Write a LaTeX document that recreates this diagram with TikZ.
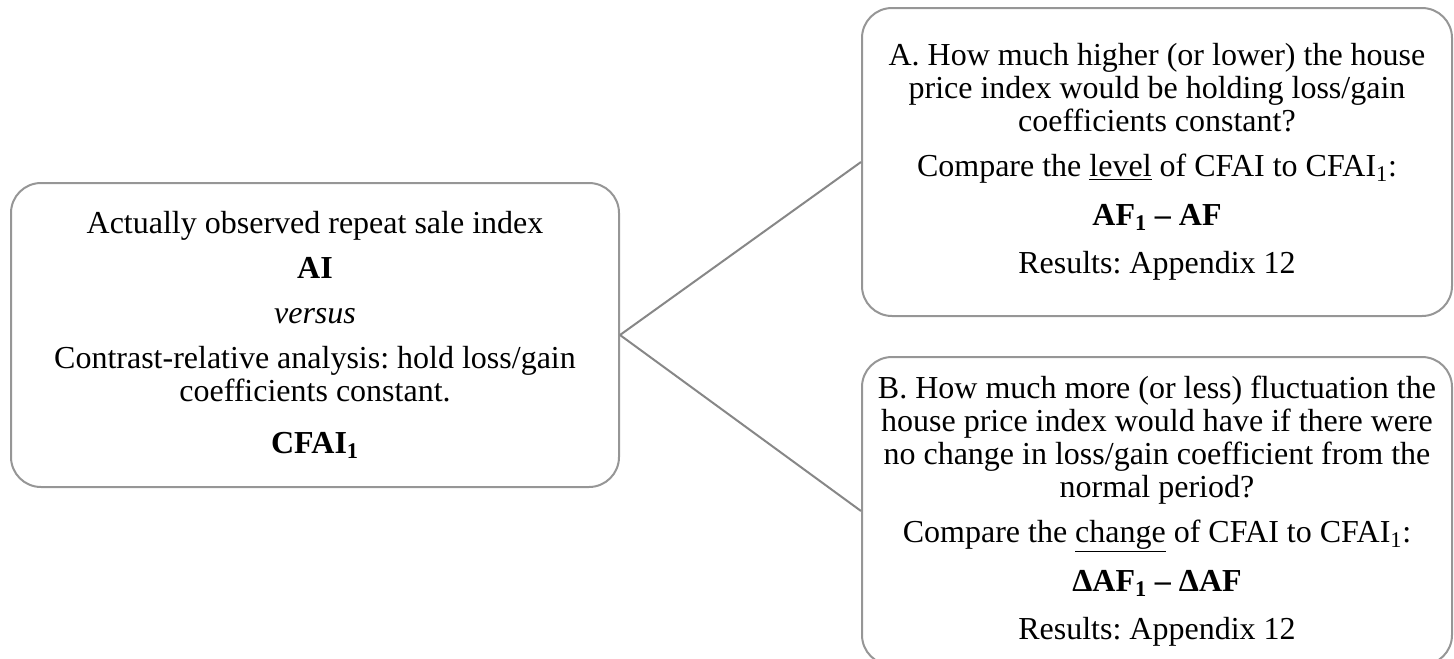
\documentclass[tikz,border=0pt]{standalone}
\usepackage{fontspec}
\setmainfont{Liberation Serif}
\frenchspacing
\definecolor{boxgray}{RGB}{150,150,150}
\definecolor{linegray}{RGB}{135,135,135}

\tikzset{every picture/.style={line width=1.5pt}}
\tikzset{
  qbox/.style={draw=boxgray, rounded corners=22.5pt, align=center, inner sep=0pt,
    font=\fontsize{24pt}{24.75pt}\selectfont},
  link/.style={draw=linegray, line width=1.5pt}
}

\begin{document}
\begin{tikzpicture}[x=0.75pt,y=0.75pt,yscale=-1,xscale=1]
\useasboundingbox (0,0) rectangle (1454,658);

% Observed index box
\draw (315,335) node (obs) [qbox, minimum width=456pt, minimum height=228pt]
  {Actually observed repeat sale index\\[9pt]
   \textbf{AI}\\[9pt]
   \textit{versus}\\[9pt]
   Contrast-relative analysis: hold loss/gain\\
   coefficients constant.\\[14pt]
   \textbf{CFAI\textsubscript{1}}};

% Question A box
\draw (1157,162) node (qa) [qbox, minimum width=442.5pt, minimum height=231pt]
  {A. How much higher (or lower) the house\\
   price index would be holding loss/gain\\
   coefficients constant?\\[9pt]
   Compare the \underline{level} of CFAI to CFAI\textsubscript{1}:\\[12pt]
   \textbf{AF\textsubscript{1} – AF}\\[11pt]
   Results: Appendix 12};

% Question B box
\draw (1157,511) node (qb) [qbox, minimum width=442.5pt, minimum height=231pt]
  {B. How much more (or less) fluctuation the\\
   house price index would have if there were\\
   no change in loss/gain coefficient from the\\
   normal period?\\[9pt]
   Compare the \underline{change} of CFAI to CFAI\textsubscript{1}:\\[12pt]
   \textbf{ΔAF\textsubscript{1} – ΔAF}\\[11pt]
   Results: Appendix 12};

% Connectors
\draw [link] (obs.east) -- (qa.west);
\draw [link] (obs.east) -- (qb.west);

\end{tikzpicture}
\end{document}
